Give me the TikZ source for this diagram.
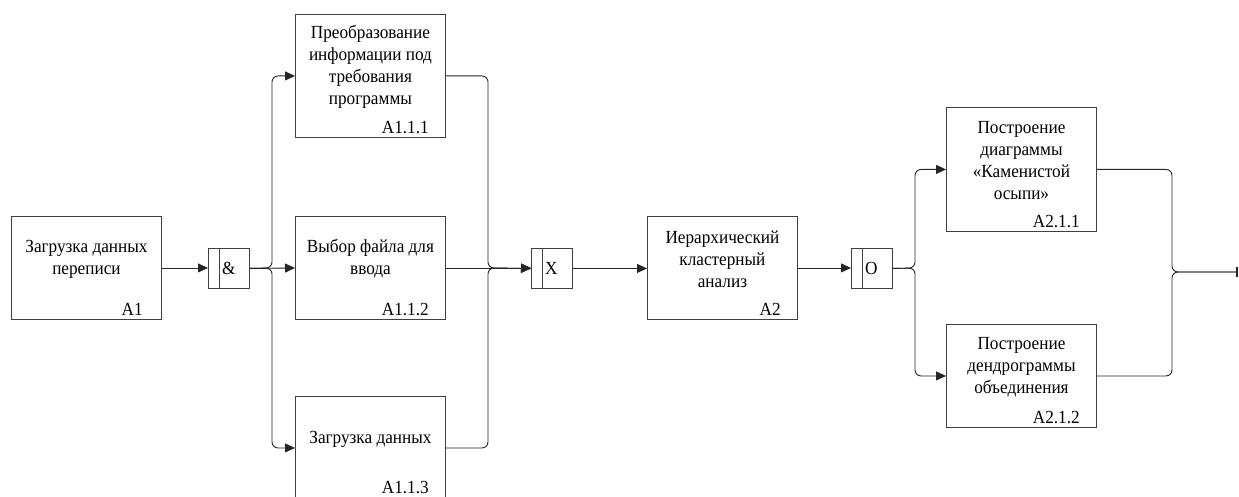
\documentclass[tikz,border=0pt]{standalone}
\usepackage{fontspec}
\setmainfont{Liberation Serif}[FakeStretch=0.93]
\usetikzlibrary{arrows.meta}
\begin{document}
\begin{tikzpicture}[x=1pt,y=-1pt,
  font=\fontsize{18.5}{22}\selectfont,
  line/.style={draw=black!85, line width=0.9pt},
  arr/.style={line, -{Triangle[length=10pt,width=9pt]}},
  rc/.style={rounded corners=6pt},
  blk/.style={line, draw=black!75, anchor=north west, minimum width=150pt, inner sep=0pt},
  txt/.style={align=center, inner sep=0pt},
  tag/.style={anchor=base east, inner sep=0pt},
  junc/.style={line, draw=black!75, anchor=north west, minimum width=41pt, minimum height=40pt, inner sep=0pt},
  jtxt/.style={anchor=west, inner sep=0pt}
]
\useasboundingbox (0,0) rectangle (1239,497);

% function blocks
\node[blk, minimum height=103pt] (a1) at (11,216) {};
\node[blk, minimum height=123pt] (b1) at (295,14) {};
\node[blk, minimum height=103pt] (b2) at (295,216) {};
\node[blk, minimum height=103pt] (b3) at (295,396) {};
\node[blk, minimum height=103pt] (a2) at (647,216) {};
\node[blk, minimum height=124pt] (c1) at (946,107) {};
\node[blk, minimum height=103pt] (c2) at (946,324) {};

% block captions
\node[txt, yshift=9pt] (a1t) at (a1.center) {Загрузка данных\\переписи};
\node[txt, yshift=9pt] (b1t) at (b1.center) {Преобразование\\информации под\\требования\\программы};
\node[txt, yshift=9pt] (b2t) at (b2.center) {Выбор файла для\\ввода};
\node[txt, yshift=9pt] (b3t) at (b3.center) {Загрузка данных};
\node[txt, yshift=9pt] (a2t) at (a2.center) {Иерархический\\кластерный\\анализ};
\node[txt, yshift=9pt] (c1t) at (c1.center) {Построение\\диаграммы\\«Каменистой\\осыпи»};
\node[txt, yshift=9pt] (c2t) at (c2.center) {Построение\\дендрограммы\\объединения};

% block numbers
\node[tag] (a1n) at ([xshift=-19pt,yshift=4pt]a1.south east) {A1};
\node[tag] (b1n) at ([xshift=-17pt,yshift=4pt]b1.south east) {A1.1.1};
\node[tag] (b2n) at ([xshift=-17pt,yshift=4pt]b2.south east) {A1.1.2};
\node[tag] (b3n) at ([xshift=-17pt,yshift=6pt]b3.south east) {A1.1.3};
\node[tag] (a2n) at ([xshift=-17pt,yshift=4pt]a2.south east) {A2};
\node[tag] (c1n) at ([xshift=-17pt,yshift=4pt]c1.south east) {A2.1.1};
\node[tag] (c2n) at ([xshift=-17pt,yshift=4pt]c2.south east) {A2.1.2};

% junctions
\node[junc] (jand) at (208,248) {};
\node[junc] (jx) at (531,248) {};
\node[junc] (jo) at (851,248) {};
\foreach \j in {jand,jx,jo}
  \draw[line, draw=black!75] ([xshift=11pt]\j.north west) -- ([xshift=11pt]\j.south west);
\node[jtxt] (landt) at ([xshift=14pt]jand.west) {\&};
\node[jtxt] (lxt) at ([xshift=14pt]jx.west) {X};
\node[jtxt] (lot) at ([xshift=14pt]jo.west) {O};

% branch points
\coordinate (f1) at (272,268);
\coordinate (g1) at (488,268);
\coordinate (f2) at (915,268);
\coordinate (g2) at (1172,272);
\coordinate (out) at (1238,272);

% connectors
\draw[arr] (a1.east) -- (a1.east -| jand.west);

\draw[arr, rc] (jand.east) -- (f1) |- (b1.west);
\draw[arr] (jand.east) -- (b2.west);
\draw[arr, rc] (jand.east) -- (f1) |- (b3.west);

\draw[arr, rc] (b1.east) -| (g1) -- (jx.west);
\draw[arr] (b2.east) -- (b2.east -| jx.west);
\draw[arr, rc] (b3.east) -| (g1) -- (jx.west);

\draw[arr] (jx.east) -- (jx.east -| a2.west);
\draw[arr] (a2.east) -- (a2.east -| jo.west);

\draw[arr, rc] (jo.east) -- (f2) |- (c1.west);
\draw[arr, rc] (jo.east) -- (f2) |- (c2.west);

\draw[line, rc] (c1.east) -| (g2) -- (out);
\draw[line, rc, -{Bar[width=10pt,line width=1.6pt]}] (c2.east) -| (g2) -- (out);
\end{tikzpicture}
\end{document}
